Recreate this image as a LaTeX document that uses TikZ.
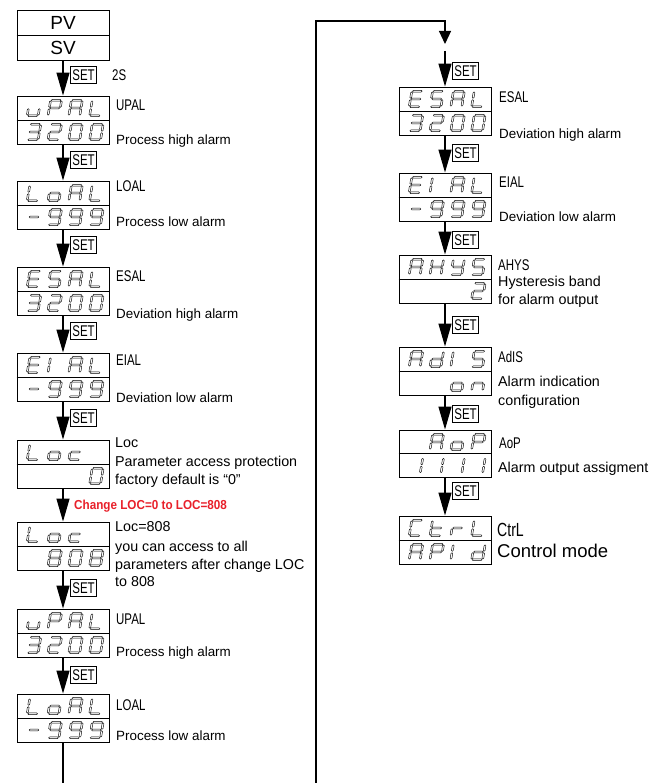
\documentclass[tikz,border=0pt]{standalone}
\usepackage{fontspec}
\setmainfont{Liberation Sans}
\newfontfamily\narrowfont{Liberation Sans}[FakeStretch=0.74]
\newfontfamily\alertfont{Liberation Sans Bold}[FakeStretch=0.9]
\usetikzlibrary{arrows.meta}
\definecolor{alertred}{RGB}{232,32,42}

% outlined segments of a seven-segment digit
\newcommand\hseg[3]{\draw[segline] ({#1+0.7},{#3}) -- ({#1+1.6},{#3-0.9}) -- ({#2-1.6},{#3-0.9}) -- ({#2-0.7},{#3}) -- ({#2-1.6},{#3+0.9}) -- ({#1+1.6},{#3+0.9}) -- cycle;}
\newcommand\vseg[3]{\draw[segline] ({#1},{#2+0.7}) -- ({#1+0.9},{#2+1.6}) -- ({#1+0.9},{#3-1.6}) -- ({#1},{#3-0.7}) -- ({#1-0.9},{#3-1.6}) -- ({#1-0.9},{#2+1.6}) -- cycle;}
\def\sgma{\hseg{-5.5}{5.5}{-7.8}}
\def\sgmg{\hseg{-5.5}{5.5}{0}}
\def\sgmd{\hseg{-5.5}{5.5}{7.8}}
\def\sgmf{\vseg{-5.5}{-7.8}{0}}
\def\sgmb{\vseg{5.5}{-7.8}{0}}
\def\sgme{\vseg{-5.5}{0}{7.8}}
\def\sgmc{\vseg{5.5}{0}{7.8}}
\def\sgmz{}

% characters as segment lists
\def\scN{z}
\def\scu{c,d,e}
\def\scP{a,b,e,f,g}
\def\scA{a,b,c,e,f,g}
\def\scL{d,e,f}
\def\sco{c,d,e,g}
\def\scc{d,e,g}
\def\scE{a,d,e,f,g}
\def\scS{a,c,d,f,g}
\def\scI{e,f}
\def\scH{b,c,e,f,g}
\def\scY{b,c,d,f,g}
\def\scd{b,c,d,e,g}
\def\scn{c,e,g}
\def\scC{a,d,e,f}
\def\sct{d,e,f,g}
\def\scr{e,g}
\def\scdash{g}
\def\scZero{a,b,c,d,e,f}
\def\scOne{b,c}
\def\scTwo{a,b,d,e,g}
\def\scThree{a,b,c,d,g}
\def\scEight{a,b,c,d,e,f,g}
\def\scNine{a,b,c,d,f,g}

\newcommand\ssdig[3]{\begin{scope}[shift={({#1},{#2})},xslant=0.17]\foreach \s in #3 {\csname sgm\s\endcsname}\end{scope}}
% four digit positions of a display row; #1 left edge of the panel, #2 row centre
\newcommand\ssrow[6]{\ssdig{#1+17}{#2}{#3}\ssdig{#1+37.8}{#2}{#4}\ssdig{#1+58.6}{#2}{#5}\ssdig{#1+79.4}{#2}{#6}}
% panel frame with its divider; #1 name, #2 centre x, #3 top, #4 bottom
\newcommand\panel[4]{\node[disp,minimum height={#4-#3}] (#1) at ({#2},{(#3+#4)/2}) {};\draw[divider] (#1.west) -- (#1.east);}

\tikzset{
  disp/.style={draw, line width=0.9pt, minimum width=92pt, inner sep=0pt},
  divider/.style={line width=0.9pt},
  segline/.style={line width=0.45pt, line join=miter},
  wire/.style={line width=1.2pt},
  flow/.style={wire, -{Triangle[length=23pt,width=13pt]}},
  setbox/.style={draw, line width=0.8pt, inner xsep=2pt, inner ysep=0pt, minimum height=17pt, anchor=west, font=\narrowfont\fontsize{15.5}{16}\selectfont},
  tag/.style={anchor=west, inner sep=0pt, font=\narrowfont\fontsize{15.5}{17}\selectfont},
  note/.style={anchor=west, inner sep=0pt, text height=10.5pt, text depth=3pt, font=\fontsize{14.3}{16}\selectfont},
  smallnote/.style={anchor=west, inner sep=0pt, text height=10pt, text depth=3pt, font=\fontsize{13.4}{16}\selectfont},
  bigtxt/.style={inner sep=0pt, font=\fontsize{19}{20}\selectfont},
  bigtag/.style={anchor=west, inner sep=0pt, font=\narrowfont\fontsize{19}{20}\selectfont},
  bignote/.style={anchor=west, inner sep=0pt, text height=13.5pt, text depth=4pt, font=\fontsize{18.5}{20}\selectfont},
  alert/.style={anchor=west, inner sep=0pt, text=alertred, font=\alertfont\fontsize{13}{14}\selectfont},
}

\begin{document}
\begin{tikzpicture}[x=1pt,y=-1pt]
\useasboundingbox (0,0) rectangle (661,783);

% ---------------- left column ----------------
\panel{L0}{63}{10}{60}
\node[bigtxt] (pv) at (63,22.5) {PV};
\node[bigtxt] (sv) at (63,47.5) {SV};

\panel{L1}{63}{96}{144}
\ssrow{17}{108}{\scu}{\scP}{\scA}{\scL}
\ssrow{17}{132}{\scThree}{\scTwo}{\scZero}{\scZero}

\panel{L2}{63}{181}{229}
\ssrow{17}{193}{\scL}{\sco}{\scA}{\scL}
\ssrow{17}{217}{\scdash}{\scNine}{\scNine}{\scNine}

\panel{L3}{63}{267}{315}
\ssrow{17}{279}{\scE}{\scS}{\scA}{\scL}
\ssrow{17}{303}{\scThree}{\scTwo}{\scZero}{\scZero}

\panel{L4}{63}{353}{401}
\ssrow{17}{365}{\scE}{\scI}{\scA}{\scL}
\ssrow{17}{389}{\scdash}{\scNine}{\scNine}{\scNine}

\panel{L5}{63}{440}{488}
\ssrow{17}{452}{\scL}{\sco}{\scc}{\scN}
\ssrow{17}{476}{\scN}{\scN}{\scN}{\scZero}

\panel{L6}{63}{522}{570}
\ssrow{17}{534}{\scL}{\sco}{\scc}{\scN}
\ssrow{17}{558}{\scN}{\scEight}{\scZero}{\scEight}

\panel{L7}{63}{609}{657}
\ssrow{17}{621}{\scu}{\scP}{\scA}{\scL}
\ssrow{17}{645}{\scThree}{\scTwo}{\scZero}{\scZero}

\panel{L8}{63}{694}{742}
\ssrow{17}{706}{\scL}{\sco}{\scA}{\scL}
\ssrow{17}{730}{\scdash}{\scNine}{\scNine}{\scNine}

\draw[flow] (L0.south) -- (L1.north);
\draw[flow] (L1.south) -- (L2.north);
\draw[flow] (L2.south) -- (L3.north);
\draw[flow] (L3.south) -- (L4.north);
\draw[flow] (L4.south) -- (L5.north);
\draw[flow] (L5.south) -- (L6.north);
\draw[flow] (L6.south) -- (L7.north);
\draw[flow] (L7.south) -- (L8.north);

\node[setbox] (ls1) at (70,75) {SET};
\node[tag] (hold) at (112,75) {2S};
\node[setbox] (ls2) at (70,160) {SET};
\node[setbox] (ls3) at (70,245) {SET};
\node[setbox] (ls4) at (70,331) {SET};
\node[setbox] (ls5) at (70,418) {SET};
\node[alert] (chg) at (74,506) {Change LOC=0 to LOC=808};
\node[setbox] (ls6) at (70,588) {SET};
\node[setbox] (ls7) at (70,675) {SET};

\node[tag] (t1) at (116,105) {UPAL};
\node[smallnote] (d1) at (116,141) {Process high alarm};
\node[tag] (t2) at (116,186) {LOAL};
\node[smallnote] (d2) at (116,223) {Process low alarm};
\node[tag] (t3) at (116,276) {ESAL};
\node[smallnote] (d3) at (116,315) {Deviation high alarm};
\node[tag] (t4) at (116,360) {EIAL};
\node[smallnote] (d4) at (116,399) {Deviation low alarm};
\node[note] (t5) at (115,444) {Loc};
\node[note] (d5a) at (115,463) {Parameter access protection};
\node[note] (d5b) at (115,481) {factory default is “0”};
\node[note] (t6) at (115,528) {Loc=808};
\node[note] (d6a) at (115,548) {you can access to all};
\node[note] (d6b) at (115,566) {parameters after change LOC};
\node[note] (d6c) at (115,583) {to 808};
\node[tag] (t7) at (116,619) {UPAL};
\node[smallnote] (d7) at (116,653) {Process high alarm};
\node[tag] (t8) at (116,705) {LOAL};
\node[smallnote] (d8) at (116,737) {Process low alarm};

% ---------------- right column ----------------
\panel{R1}{445}{87}{135}
\ssrow{399}{99}{\scE}{\scS}{\scA}{\scL}
\ssrow{399}{123}{\scThree}{\scTwo}{\scZero}{\scZero}

\panel{R2}{445}{173}{221}
\ssrow{399}{185}{\scE}{\scI}{\scA}{\scL}
\ssrow{399}{209}{\scdash}{\scNine}{\scNine}{\scNine}

\panel{R3}{445}{255}{303}
\ssrow{399}{267}{\scA}{\scH}{\scY}{\scS}
\ssrow{399}{291}{\scN}{\scN}{\scN}{\scTwo}

\panel{R4}{445}{347}{395}
\ssrow{399}{359}{\scA}{\scd}{\scI}{\scS}
\ssrow{399}{383}{\scN}{\scN}{\sco}{\scn}

\panel{R5}{445}{430}{477}
\ssrow{399}{442}{\scN}{\scA}{\sco}{\scP}
\ssrow{399}{465.5}{\scOne}{\scOne}{\scOne}{\scOne}

\panel{R6}{445}{516}{564}
\ssrow{399}{528}{\scC}{\sct}{\scr}{\scL}
\ssrow{399}{552}{\scA}{\scP}{\scI}{\scd}

% return path from the foot of the left column
\coordinate (wrapL) at (63,783);
\coordinate (wrapR) at (316,783);
\coordinate (wrapC) at (445,21);
\coordinate (wrapT) at (445,44);
\coordinate (r0) at (445,51);
\draw[wire] (L8.south) -- (wrapL);
\draw[wire, -{Triangle[length=13pt,width=12pt]}] (wrapR) |- (wrapC) -- (wrapT);

\draw[flow] (r0) -- (R1.north);
\draw[flow] (R1.south) -- (R2.north);
\draw[flow] (R2.south) -- (R3.north);
\draw[flow] (R3.south) -- (R4.north);
\draw[flow] (R4.south) -- (R5.north);
\draw[flow] (R5.south) -- (R6.north);

\node[setbox] (rs1) at (452,71) {SET};
\node[setbox] (rs2) at (452,153) {SET};
\node[setbox] (rs3) at (452,240) {SET};
\node[setbox] (rs4) at (452,325) {SET};
\node[setbox] (rs5) at (452,414) {SET};
\node[setbox] (rs6) at (452,491) {SET};

\node[tag] (u1) at (499,97) {ESAL};
\node[smallnote] (e1) at (499,135) {Deviation high alarm};
\node[tag] (u2) at (499,182) {EIAL};
\node[smallnote] (e2) at (499,218) {Deviation low alarm};
\node[tag] (u3) at (498,265) {AHYS};
\node[note] (e3a) at (498,283) {Hysteresis band};
\node[note] (e3b) at (498,301) {for alarm output};
\node[tag] (u4) at (498,357) {AdIS};
\node[note] (e4a) at (498,383) {Alarm indication};
\node[note] (e4b) at (498,402) {configuration};
\node[tag] (u5) at (499,443) {AoP};
\node[note] (e5) at (498,469) {Alarm output assigment};
\node[bigtag] (u6) at (497,530) {CtrL};
\node[bignote] (e6) at (497,553) {Control mode};
\end{tikzpicture}
\end{document}
